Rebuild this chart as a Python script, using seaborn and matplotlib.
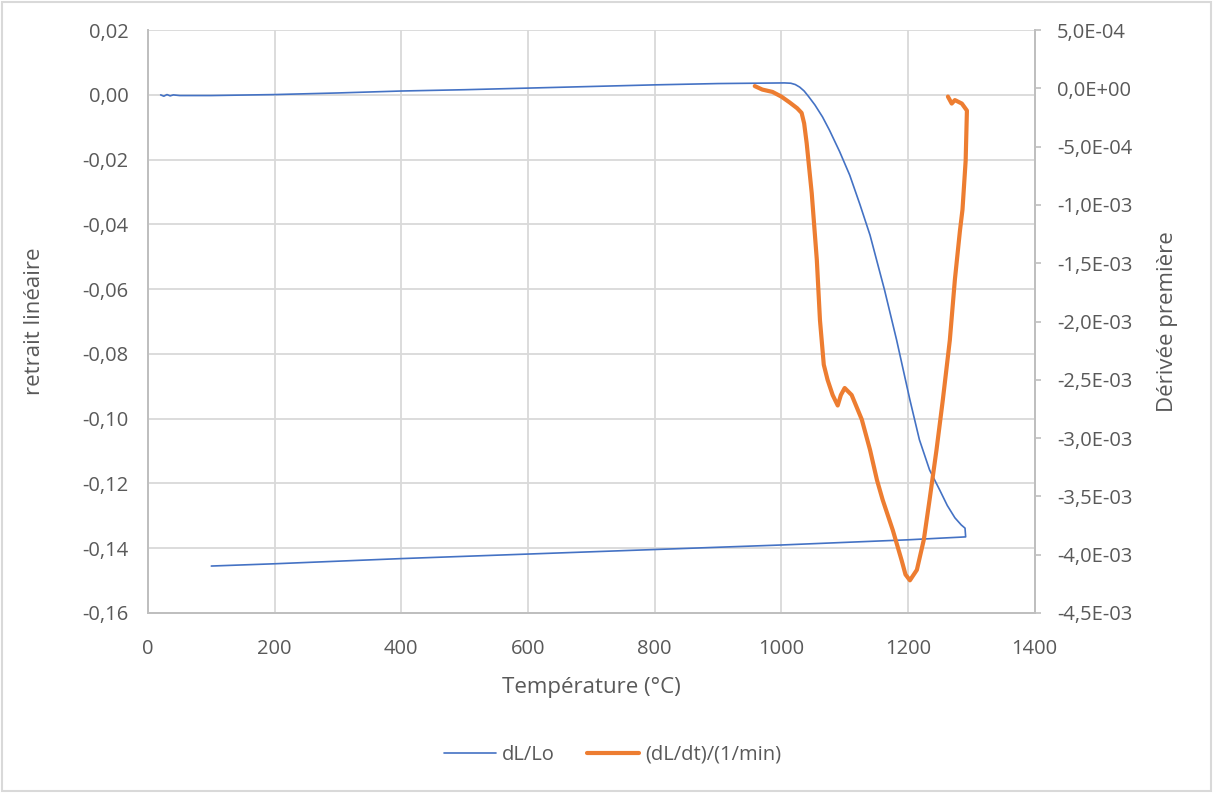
import matplotlib
matplotlib.use("Agg")
import matplotlib.pyplot as plt
import seaborn as sns
import pandas as pd
from matplotlib.ticker import FuncFormatter, MultipleLocator
from matplotlib.patches import Rectangle
from matplotlib.lines import Line2D

# dL/Lo : heating branch then cooling branch
heat_temp = [20, 25, 30, 35, 40, 50, 100, 200, 300, 400, 500, 600, 700, 800, 900,
             1005, 1015, 1022, 1029, 1036, 1043, 1053, 1065, 1076, 1092, 1108, 1124,
             1140, 1163, 1182, 1203, 1218, 1234, 1250, 1262, 1274, 1284, 1290, 1291]
heat_dl = [0.0, -0.0004, 0.0001, -0.0003, 0.0, -0.0002, -0.0002, 0.0001, 0.0006,
           0.0012, 0.0016, 0.0021, 0.0026, 0.0031, 0.0035, 0.0037, 0.0036, 0.0032,
           0.0024, 0.0012, -0.0005, -0.0031, -0.0068, -0.0109, -0.0175, -0.0248,
           -0.0338, -0.0433, -0.0603, -0.0757, -0.0942, -0.1065, -0.1158, -0.1220,
           -0.1268, -0.1306, -0.1328, -0.1338, -0.1365]
cool_temp = [1291, 1250, 1200, 1100, 1000, 900, 800, 700, 600, 500, 400, 300, 200, 100]
cool_dl = [-0.1365, -0.1369, -0.1374, -0.1382, -0.1390, -0.1397, -0.1404, -0.1411,
           -0.1418, -0.1425, -0.1432, -0.1440, -0.1448, -0.1455]

# (dL/dt)/(1/min), values in units of 1e-4
deriv_temp = [958, 970, 986, 1000, 1013, 1025, 1032, 1036, 1040, 1048, 1056, 1061, 1067,
              1073, 1081, 1089, 1094, 1100, 1111, 1127, 1140, 1151, 1160, 1176, 1190,
              1196, 1203, 1214, 1225, 1234, 1245, 1255, 1266, 1274, 1282, 1286, 1291,
              1293, 1285, 1274, 1269, 1263]
deriv_e4 = [0.2, -0.1, -0.3, -0.7, -1.2, -1.7, -2.1, -3.0, -4.7, -9.0, -14.7, -19.9,
            -23.7, -25.0, -26.3, -27.2, -26.3, -25.7, -26.3, -28.4, -31.0, -33.6, -35.3,
            -37.9, -40.5, -41.7, -42.2, -41.3, -38.7, -35.3, -31.0, -26.7, -21.6, -16.4,
            -12.2, -10.4, -6.2, -1.9, -1.3, -1.0, -1.3, -0.7]

BLUE = "#4472C4"
ORANGE = "#ED7D31"
GRID = "#D9D9D9"
TXT = "#595959"

sns.set_theme(style="white")
plt.rcParams["font.family"] = ["Open Sans", "DejaVu Sans"]

df_dl = pd.DataFrame({"T": heat_temp + cool_temp, "v": heat_dl + cool_dl})
df_der = pd.DataFrame({"T": deriv_temp, "v": [d * 1e-4 for d in deriv_e4]})

fig = plt.figure(figsize=(12.13, 7.93), dpi=100)
ax = fig.add_axes([0.122, 0.227, 0.731, 0.735])
ax2 = ax.twinx()

sns.lineplot(data=df_dl, x="T", y="v", sort=False, estimator=None, ax=ax,
             color=BLUE, linewidth=1.2, legend=False)
sns.lineplot(data=df_der, x="T", y="v", sort=False, estimator=None, ax=ax2,
             color=ORANGE, linewidth=3, legend=False)

ax.set_xlim(0, 1400)
ax.set_ylim(-0.16, 0.02)
ax2.set_ylim(-4.5e-3, 5e-4)
ax.xaxis.set_major_locator(MultipleLocator(200))
ax.yaxis.set_major_locator(MultipleLocator(0.02))
ax2.yaxis.set_major_locator(MultipleLocator(5e-4))

def dec_fmt(v, p):
    if abs(v) < 1e-9:
        return "0,00"
    return f"{v:.2f}".replace(".", ",")

def sci_fmt(v, p):
    if abs(v) < 1e-12:
        return "0,0E+00"
    return f"{v:.1E}".replace(".", ",")

ax.yaxis.set_major_formatter(FuncFormatter(dec_fmt))
ax2.yaxis.set_major_formatter(FuncFormatter(sci_fmt))

ax.grid(True, color=GRID, linewidth=1.3)
ax.set_axisbelow(True)
for a in (ax, ax2):
    a.spines["top"].set_visible(False)
    for side in ("left", "right", "bottom"):
        a.spines[side].set_color("#BFBFBF")
        a.spines[side].set_linewidth(1.3)

ax.tick_params(axis="y", length=0, pad=14, labelsize=14.5, labelcolor=TXT)
ax.tick_params(axis="x", length=0, pad=19, labelsize=14.5, labelcolor=TXT)
ax2.tick_params(axis="y", length=4, width=1.2, color="#BFBFBF", pad=12,
                labelsize=14.5, labelcolor=TXT)

ax.set_xlabel("Température (°C)", fontsize=16, color=TXT, labelpad=13)
ax.set_ylabel("retrait linéaire", fontsize=16, color=TXT, labelpad=27)
ax2.set_ylabel("Dérivée première", fontsize=16, color=TXT, labelpad=18)

handles = [Line2D([], [], color=BLUE, linewidth=1.2),
           Line2D([], [], color=ORANGE, linewidth=3)]
fig.legend(handles, ["dL/Lo", "(dL/dt)/(1/min)"], loc="center",
           bbox_to_anchor=(0.505, 0.048), ncol=2, frameon=False, fontsize=14.5,
           labelcolor=TXT, handlelength=2.6, handletextpad=0.3, columnspacing=1.6)

fig.patches.append(Rectangle((0.002, 0.002), 0.996, 0.995, transform=fig.transFigure,
                             fill=False, edgecolor=GRID, linewidth=1.5))

fig.savefig("out.png", dpi=100)
